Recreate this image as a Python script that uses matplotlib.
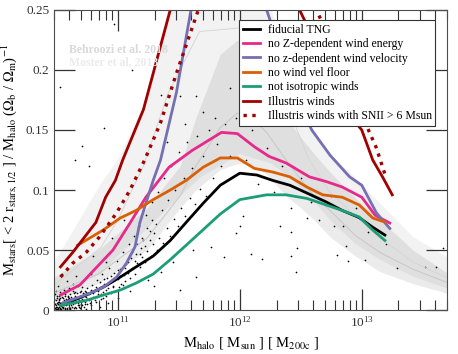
import numpy as np
import matplotlib
matplotlib.use("Agg")
import matplotlib.pyplot as plt
from matplotlib.ticker import FuncFormatter, LogLocator, NullFormatter

plt.rcParams['font.family'] = 'serif'
plt.rcParams['font.serif'] = ['Liberation Serif', 'DejaVu Serif']
plt.rcParams['mathtext.fontset'] = 'stix'

# --- model bands (log10 Mhalo, ratio) ---
moster_logm = [10.47, 10.86, 11.00, 11.21, 11.41, 11.67, 12.00, 12.26, 12.41, 12.57, 12.74, 12.95, 13.15, 13.42, 13.70]
moster_lo = [0.010, 0.030, 0.045, 0.065, 0.085, 0.110, 0.130, 0.122, 0.110, 0.095, 0.075, 0.055, 0.042, 0.028, 0.018]
moster_hi = [0.038, 0.105, 0.125, 0.170, 0.250, 0.330, 0.350, 0.250, 0.205, 0.155, 0.130, 0.110, 0.089, 0.061, 0.044]
moster_med = [0.020, 0.052, 0.075, 0.120, 0.180, 0.232, 0.235, 0.205, 0.165, 0.125, 0.098, 0.078, 0.060, 0.040, 0.027]

behr_logm = [10.47, 10.84, 11.24, 11.51, 11.64, 11.84, 11.98, 12.10, 12.22, 12.38, 12.49, 12.61, 12.74, 12.95, 13.15, 13.42, 13.70]
behr_lo = [0.008, 0.022, 0.050, 0.085, 0.100, 0.117, 0.122, 0.121, 0.113, 0.095, 0.086, 0.075, 0.061, 0.045, 0.032, 0.022, 0.014]
behr_hi = [0.027, 0.050, 0.085, 0.120, 0.160, 0.213, 0.225, 0.215, 0.190, 0.160, 0.145, 0.130, 0.115, 0.093, 0.075, 0.050, 0.031]
behr_med = [0.014, 0.030, 0.060, 0.095, 0.120, 0.152, 0.164, 0.160, 0.148, 0.125, 0.110, 0.095, 0.083, 0.062, 0.048, 0.034, 0.023]

# --- simulation runs ---
fid_logm = [10.54, 10.74, 10.88, 11.02, 11.15, 11.29, 11.43, 11.56, 11.70, 11.84, 12.00, 12.14, 12.27, 12.41, 12.55, 12.71, 12.84, 12.98, 13.09, 13.19]
fid_frac = [0.004, 0.0125, 0.019, 0.0275, 0.036, 0.045, 0.058, 0.073, 0.089, 0.104, 0.114, 0.1125, 0.108, 0.104, 0.0975, 0.090, 0.083, 0.077, 0.069, 0.0625]

noZ_logm = [10.53, 10.69, 10.82, 10.96, 11.10, 11.23, 11.42, 11.61, 11.85, 11.98, 12.12, 12.24, 12.38, 12.57, 12.71, 12.84, 13.00, 13.11, 13.23]
noZ_frac = [0.0125, 0.021, 0.035, 0.050, 0.0725, 0.094, 0.119, 0.133, 0.148, 0.147, 0.136, 0.128, 0.1225, 0.111, 0.107, 0.1025, 0.094, 0.079, 0.0725]

noz_logm = [10.55, 10.77, 10.88, 10.99, 11.07, 11.14, 11.18, 11.23, 11.29, 11.35, 11.48, 11.60, 11.75, 12.05, 12.22, 12.33, 12.41, 12.49, 12.59, 12.74, 12.90, 13.00, 13.12, 13.23]
noz_frac = [0.006, 0.014, 0.019, 0.0275, 0.039, 0.0525, 0.0725, 0.089, 0.108, 0.125, 0.181, 0.250, 0.330, 0.330, 0.250, 0.217, 0.192, 0.171, 0.150, 0.129, 0.111, 0.104, 0.081, 0.068]

floor_logm = [10.67, 10.88, 11.02, 11.15, 11.29, 11.43, 11.56, 11.70, 11.84, 11.98, 12.12, 12.27, 12.41, 12.55, 12.68, 12.84, 12.98, 13.09, 13.19]
floor_frac = [0.054, 0.0667, 0.0767, 0.083, 0.092, 0.100, 0.108, 0.119, 0.1267, 0.1267, 0.118, 0.115, 0.111, 0.1025, 0.096, 0.094, 0.0875, 0.0767, 0.0733]

iso_logm = [10.53, 10.74, 10.88, 11.02, 11.15, 11.29, 11.43, 11.56, 11.70, 11.84, 12.00, 12.22, 12.38, 12.55, 12.71, 12.84, 12.98, 13.09, 13.19]
iso_frac = [0.004, 0.008, 0.0125, 0.0167, 0.0225, 0.030, 0.042, 0.054, 0.067, 0.080, 0.092, 0.096, 0.096, 0.093, 0.0875, 0.083, 0.0775, 0.0667, 0.058]

ill_logm = [10.53, 10.63, 10.74, 10.82, 10.90, 10.98, 11.04, 11.21, 11.43, 11.70, 12.20, 12.49, 12.92, 13.00, 13.09, 13.17, 13.25]
ill_frac = [0.036, 0.048, 0.0625, 0.073, 0.094, 0.108, 0.125, 0.167, 0.250, 0.320, 0.320, 0.250, 0.160, 0.150, 0.125, 0.111, 0.096]

snii_logm = [10.53, 10.63, 10.74, 10.85, 10.99, 11.10, 11.22, 11.35, 11.48, 11.66, 11.90, 12.35, 12.63, 13.02, 13.12, 13.20]
snii_frac = [0.0275, 0.039, 0.048, 0.061, 0.081, 0.100, 0.125, 0.156, 0.197, 0.250, 0.330, 0.330, 0.250, 0.158, 0.135, 0.110]

# --- individual TNG galaxies (approximate positions) ---
galaxies = [
    (10.46, 0.002), (10.47, 0.005), (10.48, 0.001), (10.48, 0.008), (10.49, 0.003), (10.50, 0.006),
    (10.50, 0.012), (10.51, 0.002), (10.52, 0.009), (10.52, 0.004), (10.53, 0.001), (10.53, 0.015),
    (10.54, 0.006), (10.55, 0.003), (10.55, 0.010), (10.56, 0.007), (10.57, 0.002), (10.57, 0.013),
    (10.58, 0.005), (10.59, 0.009), (10.60, 0.003), (10.60, 0.018), (10.61, 0.007), (10.62, 0.011),
    (10.62, 0.004), (10.63, 0.008), (10.64, 0.002), (10.64, 0.014), (10.65, 0.006), (10.66, 0.010),
    (10.67, 0.004), (10.67, 0.020), (10.68, 0.008), (10.69, 0.012), (10.70, 0.005), (10.70, 0.016),
    (10.71, 0.009), (10.72, 0.003), (10.72, 0.013), (10.73, 0.007), (10.74, 0.011), (10.75, 0.018),
    (10.75, 0.005), (10.46, 0.010), (10.49, 0.016), (10.51, 0.020), (10.58, 0.024), (10.63, 0.022),
    (10.47, 0.026), (10.54, 0.030), (10.66, 0.028), (10.69, 0.002), (10.61, 0.001), (10.56, 0.017),
    (10.52, 0.007), (10.59, 0.012), (10.65, 0.015), (10.71, 0.019), (10.74, 0.001), (10.47, 0.013),
    (10.50, 0.001), (10.53, 0.005), (10.58, 0.001), (10.60, 0.010), (10.68, 0.004), (10.73, 0.016),
    (10.76, 0.008), (10.77, 0.014), (10.78, 0.004), (10.79, 0.021), (10.80, 0.011), (10.81, 0.017),
    (10.82, 0.007), (10.83, 0.025), (10.84, 0.013), (10.85, 0.019), (10.86, 0.009), (10.87, 0.030),
    (10.88, 0.015), (10.89, 0.022), (10.90, 0.012), (10.91, 0.027), (10.92, 0.018), (10.93, 0.035),
    (10.94, 0.014), (10.95, 0.024), (10.96, 0.020), (10.97, 0.031), (10.98, 0.016), (10.99, 0.041),
    (11.00, 0.026), (11.01, 0.019), (11.02, 0.034), (11.03, 0.022), (11.04, 0.048), (11.05, 0.029),
    (11.06, 0.024), (11.07, 0.038), (11.08, 0.031), (11.09, 0.055), (11.10, 0.027), (11.11, 0.043),
    (11.12, 0.035), (11.13, 0.062), (11.14, 0.030), (11.15, 0.047), (11.16, 0.039), (11.17, 0.070),
    (11.18, 0.036), (11.19, 0.052), (11.20, 0.044), (10.80, 0.045), (10.95, 0.060), (11.05, 0.075),
    (10.85, 0.003), (10.92, 0.006), (11.00, 0.010), (11.10, 0.016), (10.78, 0.030), (10.90, 0.040),
    (11.21, 0.058), (11.22, 0.040), (11.23, 0.079), (11.24, 0.049), (11.26, 0.066), (11.27, 0.045),
    (11.28, 0.090), (11.29, 0.055), (11.31, 0.072), (11.32, 0.050), (11.33, 0.098), (11.34, 0.060),
    (11.36, 0.083), (11.37, 0.056), (11.38, 0.110), (11.40, 0.068), (11.41, 0.092), (11.43, 0.062),
    (11.44, 0.120), (11.46, 0.076), (11.47, 0.100), (11.49, 0.070), (11.50, 0.132), (11.52, 0.085),
    (11.54, 0.110), (11.55, 0.078), (11.57, 0.140), (11.59, 0.093), (11.61, 0.118), (11.63, 0.088),
    (11.65, 0.145), (11.67, 0.101), (11.70, 0.128), (11.72, 0.095), (11.75, 0.150), (11.78, 0.110),
    (11.81, 0.138), (11.85, 0.120), (11.88, 0.155), (11.92, 0.128), (11.25, 0.025), (11.35, 0.032),
    (11.45, 0.040), (11.30, 0.020), (12.05, 0.125), (12.10, 0.150), (12.15, 0.105), (12.22, 0.135),
    (12.28, 0.098), (12.35, 0.120), (12.42, 0.085), (12.50, 0.110), (12.58, 0.090), (12.65, 0.075),
    (12.75, 0.095), (12.85, 0.070), (12.95, 0.085), (13.05, 0.065), (13.15, 0.075), (13.20, 0.055),
    (10.97, 0.238), (11.12, 0.200), (10.53, 0.186), (10.89, 0.152), (10.71, 0.137), (10.65, 0.125),
    (10.76, 0.120), (11.51, 0.178), (11.35, 0.179), (11.64, 0.178), (11.92, 0.185), (11.97, 0.160),
    (12.02, 0.178), (12.00, 0.070), (12.09, 0.047), (12.18, 0.0425), (12.33, 0.070), (12.42, 0.045),
    (12.46, 0.032), (12.47, 0.052), (12.42, 0.065), (12.55, 0.077), (12.77, 0.070), (12.80, 0.046),
    (12.87, 0.053), (12.89, 0.041), (13.03, 0.042), (13.29, 0.035), (13.52, 0.036), (13.61, 0.036),
    (13.67, 0.052), (11.87, 0.044), (11.64, 0.0275), (11.51, 0.017), (11.76, 0.0525), (11.97, 0.064),
    (12.03, 0.078), (11.62, 0.050), (11.40, 0.140), (11.55, 0.155), (11.70, 0.165), (11.80, 0.160),
]

# dense low-mass cloud, bottom left
low_mass_cloud = [
    (10.455, 0.001), (10.458, 0.004), (10.462, 0.007), (10.465, 0.002), (10.468, 0.011), (10.472, 0.003),
    (10.475, 0.006), (10.478, 0.009), (10.481, 0.002), (10.484, 0.005), (10.487, 0.013), (10.490, 0.001),
    (10.493, 0.008), (10.496, 0.004), (10.500, 0.010), (10.503, 0.003), (10.506, 0.007), (10.509, 0.001),
    (10.512, 0.005), (10.515, 0.012), (10.518, 0.003), (10.521, 0.008), (10.524, 0.002), (10.527, 0.006),
    (10.530, 0.010), (10.533, 0.004), (10.536, 0.001), (10.539, 0.007), (10.542, 0.003), (10.545, 0.011),
    (10.548, 0.005), (10.551, 0.002), (10.555, 0.008), (10.559, 0.004), (10.563, 0.012), (10.567, 0.006),
    (10.571, 0.001), (10.575, 0.009), (10.579, 0.004), (10.583, 0.007), (10.587, 0.002), (10.591, 0.011),
    (10.595, 0.005), (10.600, 0.008), (10.605, 0.002), (10.610, 0.013), (10.615, 0.006), (10.620, 0.009),
    (10.625, 0.003), (10.630, 0.016), (10.635, 0.005), (10.640, 0.010), (10.645, 0.003), (10.650, 0.012),
    (10.655, 0.007), (10.660, 0.002), (10.665, 0.014), (10.670, 0.006), (10.675, 0.010), (10.680, 0.003),
    (10.690, 0.015), (10.695, 0.007), (10.700, 0.011), (10.710, 0.004), (10.715, 0.014), (10.720, 0.008),
    (10.730, 0.012), (10.735, 0.005), (10.740, 0.015), (10.750, 0.009), (10.760, 0.013), (10.770, 0.006),
    (10.780, 0.017), (10.790, 0.010), (10.800, 0.014), (10.810, 0.008), (10.820, 0.019), (10.830, 0.011),
    (10.840, 0.016), (10.850, 0.023), (10.860, 0.013), (10.870, 0.020), (10.880, 0.010), (10.890, 0.026),
    (10.900, 0.017), (10.920, 0.022), (10.940, 0.028), (10.960, 0.019), (10.980, 0.025), (11.000, 0.033),
    (11.020, 0.028), (11.040, 0.021), (11.060, 0.035), (11.080, 0.040), (11.100, 0.033), (11.120, 0.048),
    (11.140, 0.041), (11.160, 0.055), (11.180, 0.047), (11.200, 0.060), (11.220, 0.053), (11.240, 0.068),
    (11.260, 0.058), (11.280, 0.075), (11.300, 0.064),
]

fig = plt.figure(figsize=(4.58, 3.54), dpi=100)
ax = fig.add_axes([0.118, 0.124, 0.858, 0.848])

# bands
ax.fill_between(10**np.array(moster_logm), moster_lo, moster_hi, color='k', alpha=0.05, lw=0)
ax.fill_between(10**np.array(behr_logm), behr_lo, behr_hi, color='k', alpha=0.08, lw=0)
ax.plot(10**np.array(moster_logm), moster_med, color='0.84', lw=0.7)
ax.plot(10**np.array(behr_logm), behr_med, color='0.78', lw=0.7)

pts = galaxies + low_mass_cloud
gx = 10**np.array([g[0] for g in pts])
gy = [g[1] for g in pts]
ax.scatter(gx, gy, s=1.5, color='k', lw=0)

ax.plot(10**np.array(fid_logm), fid_frac, color='k', lw=2, label='fiducial TNG')
ax.plot(10**np.array(noZ_logm), noZ_frac, color='#e7298a', lw=2, label='no Z-dependent wind energy')
ax.plot(10**np.array(noz_logm), noz_frac, color='#7570b3', lw=2, label='no z-dependent wind velocity')
ax.plot(10**np.array(floor_logm), floor_frac, color='#d95f02', lw=2, label='no wind vel floor')
ax.plot(10**np.array(iso_logm), iso_frac, color='#1b9e77', lw=2, label='not isotropic winds')
ax.plot(10**np.array(ill_logm), ill_frac, color='#a00000', lw=2, label='Illustris winds')
ax.plot(10**np.array(snii_logm), snii_frac, color='#a00000', lw=2.4, ls=':',
        label='Illustris winds with SNII > 6 Msun')

ax.text(0.037, 0.855, 'Behroozi et al. 2018', transform=ax.transAxes, color='0.85',
        fontsize=8.5, fontweight='bold')
ax.text(0.037, 0.812, 'Moster et al. 2013', transform=ax.transAxes, color='0.92',
        fontsize=8.5, fontweight='bold')

ax.set_xscale('log')
ax.set_xlim(3e10, 5e13)
ax.set_ylim(0, 0.25)
ax.set_yticks([0, 0.05, 0.1, 0.15, 0.2, 0.25])
ax.yaxis.set_major_formatter(FuncFormatter(lambda v, p: '%g' % v))
ax.xaxis.set_minor_locator(LogLocator(base=10, subs=np.arange(2, 10)))
ax.xaxis.set_minor_formatter(NullFormatter())

ax.tick_params(which='both', direction='in', top=True, right=True, labelsize=9.5, colors='0.2')
ax.tick_params(which='major', length=15, width=0.9)
ax.tick_params(which='minor', length=7, width=0.8)
for s in ax.spines.values():
    s.set_color('0.3')

ax.set_xlabel(r'M$_{\rm halo}$ [ M$_{\rm sun}$ ] [ M$_{\rm 200c}$ ]', fontsize=10.5)
ax.set_ylabel(r'M$_{\rm stars}$[ < 2 r$_{\rm stars,1/2}$ ] / M$_{\rm halo}$ ($\Omega_{\rm b}$ / $\Omega_{\rm m}$)$^{-1}$',
              fontsize=10.5, labelpad=4)

leg = ax.legend(loc='upper right', fontsize=8.5, frameon=True, fancybox=False, framealpha=1,
                edgecolor='0.2', handlelength=1.5, labelspacing=0.2, borderpad=0.3,
                handletextpad=0.6, bbox_to_anchor=(0.985, 0.985))
leg.get_frame().set_linewidth(0.8)

fig.savefig('out.png', dpi=100)
